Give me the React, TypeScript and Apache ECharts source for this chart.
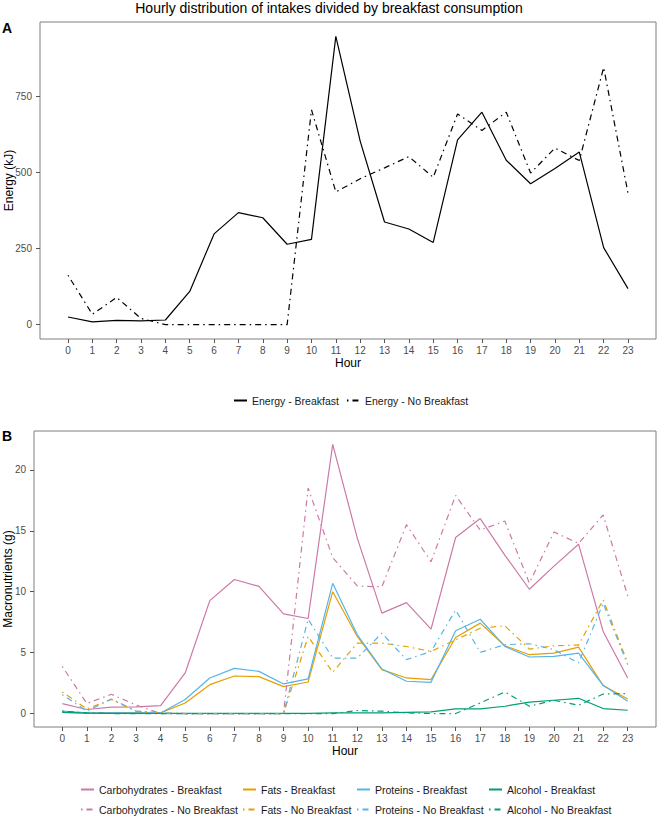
import React, { useEffect, useRef } from "react";
import * as echarts from "echarts";

const hours = [0, 1, 2, 3, 4, 5, 6, 7, 8, 9, 10, 11, 12, 13, 14, 15, 16, 17, 18, 19, 20, 21, 22, 23];

const energyBreakfast = [25, 9, 14, 12, 15, 109, 298, 368, 351, 264, 280, 947, 603, 337, 314, 270, 607, 698, 540, 463, 513, 567, 253, 118];
const energyNoBreakfast = [162, 34, 89, 20, 0, 0, 0, 0, 0, 0, 706, 436, 479, 515, 552, 484, 692, 638, 698, 498, 580, 539, 845, 432];

const carbsBreakfast = [0.82, 0.33, 0.52, 0.55, 0.65, 3.33, 9.27, 11.0, 10.44, 8.18, 7.8, 22.09, 14.4, 8.24, 9.1, 6.93, 14.45, 16.0, 13.0, 10.2, 12.1, 13.9, 6.74, 2.92];
const carbsNoBreakfast = [3.87, 0.82, 1.58, 0.7, 0.0, 0, 0, 0, 0, 0, 18.5, 12.8, 10.47, 10.4, 15.5, 12.46, 17.9, 15.05, 15.8, 10.7, 14.9, 13.96, 16.3, 9.65];
const fatsBreakfast = [0.1, 0.05, 0.05, 0.05, 0.05, 0.87, 2.37, 3.08, 3.03, 2.21, 2.59, 10.0, 6.33, 3.6, 2.92, 2.78, 6.24, 7.42, 5.56, 4.83, 4.96, 5.45, 2.29, 1.2];
const fatsNoBreakfast = [1.77, 0.38, 1.15, 0.2, 0.05, 0, 0, 0, 0, 0, 6.33, 3.38, 5.78, 5.78, 5.5, 5.1, 6.05, 7.0, 7.2, 5.29, 5.56, 5.62, 9.33, 4.15];
const proteinsBreakfast = [0.2, 0.05, 0.05, 0.05, 0.05, 1.15, 2.92, 3.71, 3.46, 2.43, 2.84, 10.69, 6.46, 3.65, 2.65, 2.56, 6.79, 7.74, 5.51, 4.64, 4.69, 4.96, 2.32, 1.0];
const proteinsNoBreakfast = [1.55, 0.2, 1.2, 0.2, 0.05, 0, 0, 0, 0, 0, 7.74, 4.55, 4.55, 6.6, 4.42, 5.1, 8.5, 5.02, 5.65, 5.73, 5.24, 4.15, 9.05, 4.0];
const alcoholBreakfast = [0.1, 0.03, 0.02, 0.02, 0.02, 0.02, 0.02, 0.02, 0.02, 0.02, 0.02, 0.05, 0.05, 0.05, 0.1, 0.14, 0.38, 0.38, 0.6, 0.93, 1.09, 1.25, 0.41, 0.27];
const alcoholNoBreakfast = [0.2, 0.05, 0, 0, 0, 0, 0, 0, 0, 0, 0, 0, 0.25, 0.19, 0.05, 0, 0, 0.87, 1.77, 0.6, 1.09, 0.68, 1.6, 1.64];

const energyTicks = [0, 250, 500, 750];
const macroTicks = [0, 5, 10, 15, 20];

const FONT = "Liberation Sans, Arial, Helvetica, sans-serif";
const DOTDASH = [1.5, 4, 6, 4];

const toPairs = (vals: number[]) => hours.map((h, i) => [h, vals[i]]);

export default function App() {
  const ref = useRef<HTMLDivElement>(null);

  useEffect(() => {
    if (!ref.current) return;
    const chart = echarts.init(ref.current, undefined, { renderer: "svg" });

    const xAxisBase = (gridIndex: number) => ({
      type: "value",
      gridIndex,
      min: -1.15,
      max: 24.15,
      name: "Hour",
      nameLocation: "middle",
      nameGap: 18,
      nameMoveOverlap: false,
      nameTextStyle: { fontFamily: FONT, fontSize: 12, color: "#000", verticalAlign: "top" },
      axisLine: { show: false, onZero: false },
      axisTick: { show: true, length: 4, lineStyle: { color: "#555", width: 1 }, customValues: hours },
      axisLabel: { show: true, customValues: hours, margin: 6, fontFamily: FONT, fontSize: 10, color: "#4d4d4d" },
      splitLine: { show: false },
    });

    const yAxisBase = (gridIndex: number, min: number, max: number, ticks: number[], name: string, gap: number) => ({
      type: "value",
      gridIndex,
      min,
      max,
      name,
      nameLocation: "middle",
      nameGap: gap,
      nameRotate: 90,
      nameMoveOverlap: false,
      nameTextStyle: { fontFamily: FONT, fontSize: 12, color: "#000" },
      axisLine: { show: false, onZero: false },
      axisTick: { show: true, length: 4, lineStyle: { color: "#555", width: 1 }, customValues: ticks },
      axisLabel: { show: true, customValues: ticks, margin: 8, fontFamily: FONT, fontSize: 10, color: "#4d4d4d" },
      splitLine: { show: false },
    });

    const line = (name: string, data: number[], color: string, dashed: boolean, idx: number) => ({
      name,
      type: "line",
      xAxisIndex: idx,
      yAxisIndex: idx,
      data: toPairs(data),
      symbol: "none",
      showSymbol: false,
      lineStyle: { color, width: 1.2, type: dashed ? DOTDASH : "solid", cap: "butt" },
      itemStyle: { color },
      emphasis: { disabled: true },
    });

    const PINK = "#CC79A7";
    const ORANGE = "#E69F00";
    const BLUE = "#56B4E9";
    const GREEN = "#009E73";

    const legendText = { fontFamily: FONT, fontSize: 10.5, color: "#1a1a1a" };
    const hiddenSymbol = { opacity: 0, borderWidth: 0 };
    const colLegend = (left: number, names: string[]) => ({
      orient: "vertical",
      left,
      top: 784,
      itemWidth: 13,
      itemHeight: 12,
      itemGap: 9,
      padding: 0,
      textStyle: legendText,
      itemStyle: hiddenSymbol,
      data: names,
      selectedMode: false,
    });

    chart.setOption({
      animation: false,
      backgroundColor: "#fff",
      textStyle: { fontFamily: FONT },
      grid: [
        { left: 40, top: 22, width: 616, height: 317, containLabel: false, outerBoundsMode: "none", show: true, borderColor: "#7f7f7f", borderWidth: 1, backgroundColor: "transparent" },
        { left: 34, top: 431, width: 622, height: 296, containLabel: false, outerBoundsMode: "none", show: true, borderColor: "#7f7f7f", borderWidth: 1, backgroundColor: "transparent" },
      ],
      xAxis: [xAxisBase(0), xAxisBase(1)],
      yAxis: [
        yAxisBase(0, -47.4, 994.4, energyTicks, "Energy (kJ)", 25),
        yAxisBase(1, -1.105, 23.19, macroTicks, "Macronutrients (g)", 20),
      ],
      legend: [
        {
          orient: "horizontal",
          left: 233,
          top: 395,
          itemWidth: 13,
          itemHeight: 12,
          itemGap: 7,
          padding: 0,
          textStyle: legendText,
          itemStyle: hiddenSymbol,
          data: ["Energy - Breakfast", "Energy - No Breakfast"],
          selectedMode: false,
        },
        colLegend(80, ["Carbohydrates - Breakfast", "Carbohydrates - No Breakfast"]),
        colLegend(242, ["Fats - Breakfast", "Fats - No Breakfast"]),
        colLegend(356, ["Proteins - Breakfast", "Proteins - No Breakfast"]),
        colLegend(488, ["Alcohol - Breakfast", "Alcohol - No Breakfast"]),
      ],
      graphic: [
        {
          type: "text",
          x: 329,
          y: 8,
          style: { text: "Hourly distribution of intakes divided by breakfast consumption", fontFamily: FONT, fontSize: 14, fill: "#000", align: "center", verticalAlign: "middle" },
        },
        {
          type: "text",
          x: 2,
          y: 28,
          style: { text: "A", fontFamily: FONT, fontSize: 14, fontWeight: "bold", fill: "#000", align: "left", verticalAlign: "middle" },
        },
        {
          type: "text",
          x: 2,
          y: 436,
          style: { text: "B", fontFamily: FONT, fontSize: 14, fontWeight: "bold", fill: "#000", align: "left", verticalAlign: "middle" },
        },
      ],
      series: [
        line("Energy - Breakfast", energyBreakfast, "#000", false, 0),
        line("Energy - No Breakfast", energyNoBreakfast, "#000", true, 0),
        line("Carbohydrates - Breakfast", carbsBreakfast, PINK, false, 1),
        line("Fats - Breakfast", fatsBreakfast, ORANGE, false, 1),
        line("Proteins - Breakfast", proteinsBreakfast, BLUE, false, 1),
        line("Alcohol - Breakfast", alcoholBreakfast, GREEN, false, 1),
        line("Carbohydrates - No Breakfast", carbsNoBreakfast, PINK, true, 1),
        line("Fats - No Breakfast", fatsNoBreakfast, ORANGE, true, 1),
        line("Proteins - No Breakfast", proteinsNoBreakfast, BLUE, true, 1),
        line("Alcohol - No Breakfast", alcoholNoBreakfast, GREEN, true, 1),
      ],
    });

    return () => chart.dispose();
  }, []);

  return <div ref={ref} style={{ position: "absolute", left: 0, top: 0, width: 658, height: 816 }} />;
}
